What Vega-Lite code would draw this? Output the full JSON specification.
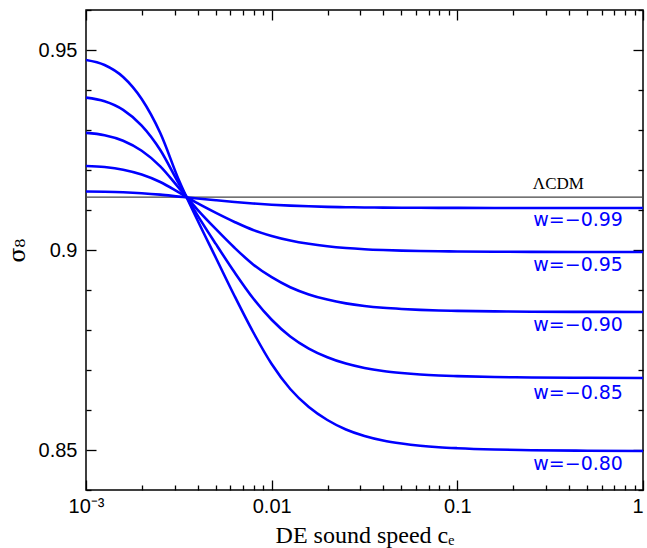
{
  "$schema": "https://vega.github.io/schema/vega-lite/v6.json",
  "width": 557,
  "height": 480,
  "autosize": {"type": "none"},
  "padding": {"left": 86, "top": 10, "right": 4, "bottom": 58},
  "background": "white",
  "config": {
    "view": {"stroke": "black", "strokeWidth": 1.5},
    "axis": {"domain": false, "grid": false, "tickColor": "black", "tickWidth": 1.3, "labelColor": "black", "labelFont": "Liberation Sans", "labelFontSize": 20, "labelOverlap": false, "labelFlush": false, "titleColor": "black"}
  },
  "datasets": {
    "curves": [
      {"w": "-0.80", "c": 0.001, "y": 0.9475},
      {"w": "-0.80", "c": 0.001259, "y": 0.94625},
      {"w": "-0.80", "c": 0.001585, "y": 0.94325},
      {"w": "-0.80", "c": 0.001995, "y": 0.93775},
      {"w": "-0.80", "c": 0.002512, "y": 0.92925},
      {"w": "-0.80", "c": 0.003162, "y": 0.9175},
      {"w": "-0.80", "c": 0.003981, "y": 0.9075},
      {"w": "-0.80", "c": 0.005012, "y": 0.898},
      {"w": "-0.80", "c": 0.00631, "y": 0.8885},
      {"w": "-0.80", "c": 0.007943, "y": 0.8795},
      {"w": "-0.80", "c": 0.01, "y": 0.8715},
      {"w": "-0.80", "c": 0.01259, "y": 0.86525},
      {"w": "-0.80", "c": 0.01585, "y": 0.86075},
      {"w": "-0.80", "c": 0.01995, "y": 0.8575},
      {"w": "-0.80", "c": 0.02512, "y": 0.855125},
      {"w": "-0.80", "c": 0.03162, "y": 0.8535},
      {"w": "-0.80", "c": 0.03981, "y": 0.852375},
      {"w": "-0.80", "c": 0.05012, "y": 0.851625},
      {"w": "-0.80", "c": 0.0631, "y": 0.851075},
      {"w": "-0.80", "c": 0.07943, "y": 0.8507},
      {"w": "-0.80", "c": 0.1, "y": 0.85045},
      {"w": "-0.80", "c": 0.1585, "y": 0.850125},
      {"w": "-0.80", "c": 0.2512, "y": 0.84995},
      {"w": "-0.80", "c": 0.5012, "y": 0.849825},
      {"w": "-0.80", "c": 1, "y": 0.84975},
      {"w": "-0.85", "c": 0.001, "y": 0.93809},
      {"w": "-0.85", "c": 0.001259, "y": 0.93719},
      {"w": "-0.85", "c": 0.001585, "y": 0.93504},
      {"w": "-0.85", "c": 0.001995, "y": 0.9311},
      {"w": "-0.85", "c": 0.002512, "y": 0.925},
      {"w": "-0.85", "c": 0.003162, "y": 0.91658},
      {"w": "-0.85", "c": 0.003981, "y": 0.90873},
      {"w": "-0.85", "c": 0.005012, "y": 0.90146},
      {"w": "-0.85", "c": 0.00631, "y": 0.89442},
      {"w": "-0.85", "c": 0.007943, "y": 0.88793},
      {"w": "-0.85", "c": 0.01, "y": 0.88257},
      {"w": "-0.85", "c": 0.01259, "y": 0.87839},
      {"w": "-0.85", "c": 0.01585, "y": 0.87537},
      {"w": "-0.85", "c": 0.01995, "y": 0.87319},
      {"w": "-0.85", "c": 0.02512, "y": 0.8716},
      {"w": "-0.85", "c": 0.03162, "y": 0.87051},
      {"w": "-0.85", "c": 0.03981, "y": 0.86976},
      {"w": "-0.85", "c": 0.05012, "y": 0.86926},
      {"w": "-0.85", "c": 0.0631, "y": 0.86889},
      {"w": "-0.85", "c": 0.07943, "y": 0.86864},
      {"w": "-0.85", "c": 0.1, "y": 0.86847},
      {"w": "-0.85", "c": 0.1585, "y": 0.86825},
      {"w": "-0.85", "c": 0.2512, "y": 0.86813},
      {"w": "-0.85", "c": 0.5012, "y": 0.86805},
      {"w": "-0.85", "c": 1, "y": 0.868},
      {"w": "-0.90", "c": 0.001, "y": 0.92927},
      {"w": "-0.90", "c": 0.001259, "y": 0.9287},
      {"w": "-0.90", "c": 0.001585, "y": 0.92732},
      {"w": "-0.90", "c": 0.001995, "y": 0.9248},
      {"w": "-0.90", "c": 0.002512, "y": 0.92091},
      {"w": "-0.90", "c": 0.003162, "y": 0.91553},
      {"w": "-0.90", "c": 0.003981, "y": 0.91011},
      {"w": "-0.90", "c": 0.005012, "y": 0.9052},
      {"w": "-0.90", "c": 0.00631, "y": 0.90056},
      {"w": "-0.90", "c": 0.007943, "y": 0.8964},
      {"w": "-0.90", "c": 0.01, "y": 0.8932},
      {"w": "-0.90", "c": 0.01259, "y": 0.8907},
      {"w": "-0.90", "c": 0.01585, "y": 0.8889},
      {"w": "-0.90", "c": 0.01995, "y": 0.8876},
      {"w": "-0.90", "c": 0.02512, "y": 0.88665},
      {"w": "-0.90", "c": 0.03162, "y": 0.886},
      {"w": "-0.90", "c": 0.03981, "y": 0.88555},
      {"w": "-0.90", "c": 0.05012, "y": 0.88525},
      {"w": "-0.90", "c": 0.0631, "y": 0.88503},
      {"w": "-0.90", "c": 0.07943, "y": 0.88488},
      {"w": "-0.90", "c": 0.1, "y": 0.88478},
      {"w": "-0.90", "c": 0.1585, "y": 0.88465},
      {"w": "-0.90", "c": 0.2512, "y": 0.88458},
      {"w": "-0.90", "c": 0.5012, "y": 0.88453},
      {"w": "-0.90", "c": 1, "y": 0.8845},
      {"w": "-0.95", "c": 0.001, "y": 0.92101},
      {"w": "-0.95", "c": 0.001259, "y": 0.92073},
      {"w": "-0.95", "c": 0.001585, "y": 0.92007},
      {"w": "-0.95", "c": 0.001995, "y": 0.91886},
      {"w": "-0.95", "c": 0.002512, "y": 0.91699},
      {"w": "-0.95", "c": 0.003162, "y": 0.9144},
      {"w": "-0.95", "c": 0.003981, "y": 0.9117},
      {"w": "-0.95", "c": 0.005012, "y": 0.90927},
      {"w": "-0.95", "c": 0.00631, "y": 0.90701},
      {"w": "-0.95", "c": 0.007943, "y": 0.905},
      {"w": "-0.95", "c": 0.01, "y": 0.90352},
      {"w": "-0.95", "c": 0.01259, "y": 0.90237},
      {"w": "-0.95", "c": 0.01585, "y": 0.90154},
      {"w": "-0.95", "c": 0.01995, "y": 0.90093},
      {"w": "-0.95", "c": 0.02512, "y": 0.90049},
      {"w": "-0.95", "c": 0.03162, "y": 0.90019},
      {"w": "-0.95", "c": 0.03981, "y": 0.89999},
      {"w": "-0.95", "c": 0.05012, "y": 0.89985},
      {"w": "-0.95", "c": 0.0631, "y": 0.89975},
      {"w": "-0.95", "c": 0.07943, "y": 0.89968},
      {"w": "-0.95", "c": 0.1, "y": 0.89963},
      {"w": "-0.95", "c": 0.1585, "y": 0.89957},
      {"w": "-0.95", "c": 0.2512, "y": 0.89954},
      {"w": "-0.95", "c": 0.5012, "y": 0.89951},
      {"w": "-0.95", "c": 1, "y": 0.8995},
      {"w": "-0.99", "c": 0.001, "y": 0.91461},
      {"w": "-0.99", "c": 0.001259, "y": 0.91455},
      {"w": "-0.99", "c": 0.001585, "y": 0.91443},
      {"w": "-0.99", "c": 0.001995, "y": 0.9142},
      {"w": "-0.99", "c": 0.002512, "y": 0.91384},
      {"w": "-0.99", "c": 0.003162, "y": 0.91335},
      {"w": "-0.99", "c": 0.003981, "y": 0.91287},
      {"w": "-0.99", "c": 0.005012, "y": 0.91243},
      {"w": "-0.99", "c": 0.00631, "y": 0.91201},
      {"w": "-0.99", "c": 0.007943, "y": 0.91163},
      {"w": "-0.99", "c": 0.01, "y": 0.91133},
      {"w": "-0.99", "c": 0.01259, "y": 0.91109},
      {"w": "-0.99", "c": 0.01585, "y": 0.91092},
      {"w": "-0.99", "c": 0.01995, "y": 0.91079},
      {"w": "-0.99", "c": 0.02512, "y": 0.9107},
      {"w": "-0.99", "c": 0.03162, "y": 0.91064},
      {"w": "-0.99", "c": 0.03981, "y": 0.9106},
      {"w": "-0.99", "c": 0.05012, "y": 0.91057},
      {"w": "-0.99", "c": 0.0631, "y": 0.91055},
      {"w": "-0.99", "c": 0.07943, "y": 0.91054},
      {"w": "-0.99", "c": 0.1, "y": 0.91053},
      {"w": "-0.99", "c": 0.1585, "y": 0.91051},
      {"w": "-0.99", "c": 0.2512, "y": 0.91051},
      {"w": "-0.99", "c": 0.5012, "y": 0.9105},
      {"w": "-0.99", "c": 1, "y": 0.9105}
    ],
    "labels": [
      {"label": "w=−0.99", "c": 0.78, "y": 0.9075},
      {"label": "w=−0.95", "c": 0.78, "y": 0.89625},
      {"label": "w=−0.90", "c": 0.78, "y": 0.88125},
      {"label": "w=−0.85", "c": 0.78, "y": 0.86425},
      {"label": "w=−0.80", "c": 0.78, "y": 0.8465}
    ],
    "lcdm": [
      {"label": "ΛCDM", "c": 0.255, "y": 0.9165, "ref": 0.9132}
    ]
  },
  "layer": [
    {
      "data": {"name": "lcdm"},
      "mark": {"type": "rule", "color": "#444444", "strokeWidth": 1.2},
      "encoding": {
        "y": {"field": "ref", "type": "quantitative", "axis": null}
      }
    },
    {
      "data": {"name": "curves"},
      "mark": {"type": "line", "color": "#0000ff", "strokeWidth": 2.6, "interpolate": "monotone", "clip": true},
      "encoding": {
        "x": {
          "field": "c", "type": "quantitative",
          "scale": {"type": "log", "domain": [0.001, 1], "nice": false},
          "axis": {
            "orient": "bottom",
            "values": [0.001, 0.002, 0.003, 0.004, 0.005, 0.006, 0.007, 0.008, 0.009, 0.01, 0.02, 0.03, 0.04, 0.05, 0.06, 0.07, 0.08, 0.09, 0.1, 0.2, 0.3, 0.4, 0.5, 0.6, 0.7, 0.8, 0.9, 1],
            "tickSize": {"condition": {"test": "datum.value == 0.001 || datum.value == 0.01 || datum.value == 0.1 || datum.value == 1", "value": -10}, "value": -5},
            "labelExpr": "datum.value == 0.001 ? '10⁻³' : datum.value == 0.01 ? '0.01' : datum.value == 0.1 ? '0.1' : datum.value == 1 ? '1' : ''",
            "labelAlign": {"condition": {"test": "datum.value == 1", "value": "right"}, "value": "center"},
            "labelPadding": 16,
            "title": "DE sound speed cₑ",
            "titleFont": "Liberation Serif",
            "titleFontSize": 24,
            "titleFontWeight": "normal",
            "titlePadding": 2
          }
        },
        "y": {
          "field": "y", "type": "quantitative",
          "scale": {"domain": [0.84, 0.96], "nice": false, "zero": false},
          "axis": {
            "orient": "left",
            "values": [0.84, 0.85, 0.86, 0.87, 0.88, 0.89, 0.9, 0.91, 0.92, 0.93, 0.94, 0.95, 0.96],
            "tickSize": {"condition": {"test": "datum.value == 0.85 || datum.value == 0.9 || datum.value == 0.95", "value": -10}, "value": -5},
            "labelExpr": "datum.value == 0.85 ? '0.85' : datum.value == 0.9 ? '0.9' : datum.value == 0.95 ? '0.95' : ''",
            "labelPadding": 19,
            "title": "σ₈",
            "titleFont": "DejaVu Serif",
            "titleFontSize": 22,
            "titleFontWeight": "normal",
            "titlePadding": 9
          }
        },
        "detail": {"field": "w", "type": "nominal"}
      }
    },
    {
      "data": {"name": "labels"},
      "mark": {"type": "text", "color": "#0000ff", "align": "right", "baseline": "middle", "font": "DejaVu Sans", "fontSize": 19},
      "encoding": {
        "x": {
          "field": "c", "type": "quantitative",
          "axis": {
            "orient": "top",
            "values": [0.001, 0.002, 0.003, 0.004, 0.005, 0.006, 0.007, 0.008, 0.009, 0.01, 0.02, 0.03, 0.04, 0.05, 0.06, 0.07, 0.08, 0.09, 0.1, 0.2, 0.3, 0.4, 0.5, 0.6, 0.7, 0.8, 0.9, 1],
            "tickSize": {"condition": {"test": "datum.value == 0.001 || datum.value == 0.01 || datum.value == 0.1 || datum.value == 1", "value": -10}, "value": -5},
            "labels": false,
            "title": null
          }
        },
        "y": {
          "field": "y", "type": "quantitative",
          "axis": {
            "orient": "right",
            "values": [0.84, 0.85, 0.86, 0.87, 0.88, 0.89, 0.9, 0.91, 0.92, 0.93, 0.94, 0.95, 0.96],
            "tickSize": {"condition": {"test": "datum.value == 0.85 || datum.value == 0.9 || datum.value == 0.95", "value": -10}, "value": -5},
            "labels": false,
            "title": null
          }
        },
        "text": {"field": "label", "type": "nominal"}
      }
    },
    {
      "data": {"name": "lcdm"},
      "mark": {"type": "text", "color": "black", "align": "left", "baseline": "middle", "font": "Liberation Serif", "fontSize": 17},
      "encoding": {
        "x": {"field": "c", "type": "quantitative", "axis": null},
        "y": {"field": "y", "type": "quantitative", "axis": null},
        "text": {"field": "label", "type": "nominal"}
      }
    }
  ],
  "resolve": {"axis": {"x": "independent", "y": "independent"}}
}
